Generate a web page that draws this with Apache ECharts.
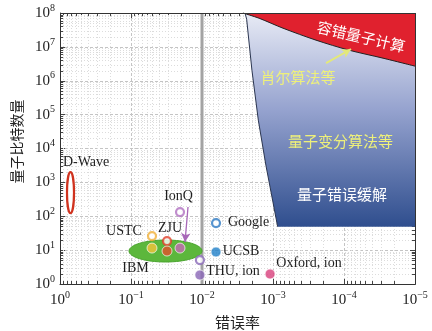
<!DOCTYPE html>
<html><head><meta charset="utf-8">
<script src="https://cdn.jsdelivr.net/npm/echarts@6/dist/echarts.min.js"></script>
<style>html,body{margin:0;padding:0;background:#fff}#c{width:432px;height:331px}</style>
</head><body><div id="c"></div>
<script>
// ---------- data ----------
const xTicks = [1, 0.1, 0.01, 0.001, 0.0001, 0.00001];
const yTicks = [1, 10, 100, 1e3, 1e4, 1e5, 1e6, 1e7, 1e8];

const ptGroup  = ['USTC','USTC','ZJU','ZJU','IonQ','IonQ','THU, ion','THU, ion','Google','UCSB','Oxford, ion'];
const ptHollow = [true,false,true,false,true,false,true,false,true,false,false];
const ptError  = [0.0506,0.0506,0.0311,0.0311,0.0204,0.0204,0.0107,0.0107,0.00635,0.00635,0.0011];
const ptQubits = [26,11.5,18.5,9.4,133,11.5,5.1,1.84,63,8.8,1.97];

const ellName     = ['D-Wave','IBM'];
const ellErrMin   = [0.635, 0.01];
const ellErrMax   = [0.797, 0.1067];
const ellQubitMin = [124, 4.46];
const ellQubitMax = [2000, 19.9];

// fault-tolerant region (red) and NISQ region (blue) boundaries
const ftX = [2.65e-3, 1.57e-3, 7.23e-4, 2.48e-4, 8.51e-5, 2.82e-5, 1e-5, 1e-5];
const ftY = [1e8, 7.0e7, 3.56e7, 1.58e7, 8.0e6, 4.64e6, 2.7e6, 1e8];
const nisqX = [2.48e-3, 2.35e-3, 1.98e-3, 1.61e-3, 1.26e-3, 8.59e-4, 1e-5, 1e-5];
const nisqY = [1e8, 6.56e7, 2.05e6, 6.88e4, 3.24e3, 49, 49, 1e8];

const thresholdX = [0.01, 0.01];
const thresholdY = [1, 1e8];

const annText = ['D-Wave','IonQ','ZJU','USTC','IBM','THU, ion','Google','UCSB','Oxford, ion'];
const annX = [0.43, 0.0214, 0.0282, 0.1255, 0.0865, 0.00366, 0.00221, 0.00282, 0.000311];
const annY = [3800, 376, 44, 34.9, 2.97, 2.31, 65, 8.97, 4.16];

const regText = ['容错量子计算','肖尔算法等','量子变分算法等','量子错误缓解'];
const regX = [5.76e-5, 4.45e-4, 1.12e-4, 1.07e-4];
const regY = [2.0e7, 1.24e6, 1.65e4, 437];

const shorArrowX = [1.79e-4, 7.97e-5];
const shorArrowY = [3.3e6, 8.55e6];
const ionqArrowX = [0.01574, 0.01735];
const ionqArrowY = [187, 17.3];

// ---------- styles ----------
const groupColor = {
  'USTC': ['#f0b038', '#f5c33a'],
  'ZJU': ['#e0402a', '#e2502c'],
  'IonQ': ['#b070c0', '#c868b8'],
  'THU, ion': ['#8a6ab8', '#8a66b6'],
  'Google': ['#2e7bc4', '#2e7bc4'],
  'UCSB': ['#1f80c8', '#1f80c8'],
  'Oxford, ion': ['#d8407c', '#d8407c']
};
const regColor = ['#ffffff', '#eef07a', '#eef07a', '#ffffff'];
const regRot = [-0.23, 0, 0, 0];
const SERIF = 'Liberation Serif';
const CJK = 'Noto Sans CJK SC';

function sup(v) {
  const e = Math.round(Math.log10(v));
  return '{b|10}{s|' + (e < 0 ? '\u2212' + (-e) : e) + '}';
}
const rich = {
  b: {fontSize: 15, fontFamily: SERIF, color: '#222', lineHeight: 20},
  s: {fontSize: 10, fontFamily: SERIF, color: '#222', lineHeight: 10, verticalAlign: 'top'}
};

const chart = echarts.init(document.getElementById('c'), null, {renderer: 'canvas'});

function crisp(v) { return Math.round(v) + 0.5; }

function decoRender(params, api) {
  const cs = params.coordSys;
  const L = cs.x, T = cs.y, R = cs.x + cs.width, B = cs.y + cs.height;
  const ch = [];
  const minorX = [], minorY = [];
  for (let k = -5; k < 0; k++) for (let m = 2; m <= 9; m++) minorX.push(m * Math.pow(10, k));
  for (let k = 0; k < 8; k++) for (let m = 2; m <= 9; m++) minorY.push(m * Math.pow(10, k));
  minorX.forEach(v => {
    const x = crisp(api.coord([v, 10])[0]);
    ch.push({type: 'line', shape: {x1: x, y1: T, x2: x, y2: B}, style: {stroke: '#dcdcdc', lineWidth: 1, lineDash: [1, 2]}});
    ch.push({type: 'line', shape: {x1: x, y1: B, x2: x, y2: B - 3}, style: {stroke: '#444', lineWidth: 1}});
    ch.push({type: 'line', shape: {x1: x, y1: T, x2: x, y2: T + 3}, style: {stroke: '#444', lineWidth: 1}});
  });
  minorY.forEach(v => {
    const y = crisp(api.coord([0.1, v])[1]);
    ch.push({type: 'line', shape: {x1: L, y1: y, x2: R, y2: y}, style: {stroke: '#dcdcdc', lineWidth: 1, lineDash: [1, 2]}});
    ch.push({type: 'line', shape: {x1: L, y1: y, x2: L + 3, y2: y}, style: {stroke: '#444', lineWidth: 1}});
    ch.push({type: 'line', shape: {x1: R, y1: y, x2: R - 3, y2: y}, style: {stroke: '#444', lineWidth: 1}});
  });
  xTicks.forEach(v => {
    const x = crisp(api.coord([v, 10])[0]);
    ch.push({type: 'line', shape: {x1: x, y1: T, x2: x, y2: T + 5}, style: {stroke: '#444', lineWidth: 1}});
  });
  yTicks.forEach(v => {
    const y = crisp(api.coord([0.1, v])[1]);
    ch.push({type: 'line', shape: {x1: R, y1: y, x2: R - 5, y2: y}, style: {stroke: '#444', lineWidth: 1}});
  });
  return {type: 'group', children: ch};
}

function frameRender(params, api) {
  const cs = params.coordSys;
  return {type: 'rect', shape: {x: crisp(cs.x), y: crisp(cs.y), width: Math.round(cs.width), height: Math.round(cs.height)},
          style: {fill: 'none', stroke: '#333', lineWidth: 1}};
}

function regionRender(params, api) {
  const blue = nisqX.map((x, i) => api.coord([x, nisqY[i]]));
  const red = ftX.map((x, i) => api.coord([x, ftY[i]]));
  const blueEdge = blue.slice(0, 6);
  const redEdge = red.slice(0, 7);
  return {type: 'group', children: [
    {type: 'polygon', shape: {points: blue}, style: {
      fill: new echarts.graphic.LinearGradient(0, 0, 0, 1, [
        {offset: 0, color: '#e8ebf5'}, {offset: 0.45, color: '#96a3cf'}, {offset: 1, color: '#2f4e8e'}])}},
    {type: 'polyline', shape: {points: blueEdge}, style: {stroke: '#2a3550', lineWidth: 1, fill: 'none'}},
    {type: 'polygon', shape: {points: red, smooth: 0}, style: {fill: '#e0212e'}},
    {type: 'polyline', shape: {points: redEdge, smooth: 0.3}, style: {stroke: '#222', lineWidth: 1, fill: 'none'}}
  ]};
}

function ellipseRender(params, api) {
  const i = params.dataIndex;
  const a = api.coord([api.value(0), api.value(2)]);
  const b = api.coord([api.value(1), api.value(3)]);
  const cx = (a[0] + b[0]) / 2, cy = (a[1] + b[1]) / 2;
  const rx = Math.abs(a[0] - b[0]) / 2, ry = Math.abs(a[1] - b[1]) / 2;
  const style = i === 0 ? {fill: '#fff', stroke: '#d0331f', lineWidth: 2.2}
                        : {fill: '#5cb73c', stroke: '#4aa52e', lineWidth: 1};
  return {type: 'ellipse', shape: {cx, cy, rx, ry}, style};
}

function textRender(texts, colors, sizes, fonts, rots) {
  return function (params, api) {
    const i = params.dataIndex;
    const p = api.coord([api.value(0), api.value(1)]);
    return {type: 'text', x: p[0], y: p[1], rotation: rots ? rots[i] : 0,
      style: {text: texts[i], fill: colors[i], fontSize: sizes, fontFamily: fonts, align: 'center', verticalAlign: 'middle'}};
  };
}

const points = ptError.map((x, i) => {
  const c = groupColor[ptGroup[i]];
  return {
    value: [x, ptQubits[i]],
    symbolSize: ptHollow[i] ? 8 : 10,
    itemStyle: ptHollow[i] ? {color: '#fff', borderColor: c[0], borderWidth: 2.2}
                           : {color: c[1], borderColor: 'rgba(255,255,255,0.85)', borderWidth: 1}
  };
});

const option = {
  animation: false,
  backgroundColor: '#fff',
  grid: {left: 60, right: 17, top: 13, bottom: 47, containLabel: false, outerBoundsMode: 'none'},
  xAxis: {
    type: 'log', logBase: 10, min: 1e-5, max: 1, inverse: true, splitNumber: 5,
    axisLine: {show: true, lineStyle: {color: '#333', width: 1}},
    axisTick: {show: true, inside: true, length: 5, lineStyle: {color: '#444'}},
    axisLabel: {formatter: sup, rich: rich, margin: 6},
    splitLine: {show: true, lineStyle: {color: '#c4c4c4', type: [3, 2], width: 1}},
    minorTick: {show: false},
    name: '错误率', nameLocation: 'middle', nameGap: 31,
    nameTextStyle: {fontFamily: CJK, fontSize: 15, color: '#222'}
  },
  yAxis: {
    type: 'log', logBase: 10, min: 1, max: 1e8, splitNumber: 8,
    axisLine: {show: true, lineStyle: {color: '#333', width: 1}},
    axisTick: {show: true, inside: true, length: 5, lineStyle: {color: '#444'}},
    axisLabel: {formatter: sup, rich: rich, margin: 5},
    splitLine: {show: true, lineStyle: {color: '#c4c4c4', type: [3, 2], width: 1}},
    name: '量子比特数量', nameLocation: 'middle', nameGap: 36,
    nameTextStyle: {fontFamily: CJK, fontSize: 14, color: '#222', padding: [0, 0, 0, 14]}
  },
  series: [
    {type: 'custom', name: 'deco', renderItem: decoRender, data: [[0.1, 10]], z: 1, silent: true, clip: false},
    {type: 'custom', name: 'regions', renderItem: regionRender, data: [[0.001, 100]], z: 2, silent: true, clip: false},
    {type: 'line', name: 'threshold', data: thresholdX.map((x, i) => [x, thresholdY[i]]), symbol: 'none', z: 3,
     lineStyle: {color: '#a3a3a3', width: 3}, silent: true,
     markLine: {silent: true, symbol: ['none', 'arrow'], symbolSize: [7, 9], label: {show: false}, animation: false,
       data: [
         [{coord: [shorArrowX[0], shorArrowY[0]], lineStyle: {color: '#e3e87a', width: 2, type: 'solid', curveness: 0}},
          {coord: [shorArrowX[1], shorArrowY[1]]}],
         [{coord: [ionqArrowX[0], ionqArrowY[0]], lineStyle: {color: '#a868b8', width: 1.3, type: 'solid', curveness: -0.35}},
          {coord: [ionqArrowX[1], ionqArrowY[1]]}]
       ]}},
    {type: 'custom', name: 'ellipses', renderItem: ellipseRender, z: 4, silent: true, clip: false,
     encode: {x: [0, 1], y: [2, 3]},
     data: ellName.map((n, i) => [ellErrMin[i], ellErrMax[i], ellQubitMin[i], ellQubitMax[i]])},
    {type: 'scatter', name: 'points', data: points, z: 5, symbol: 'circle', silent: true},
    {type: 'custom', name: 'labels', z: 6, silent: true, clip: false,
     renderItem: textRender(annText, annText.map(() => '#1e1e1e'), 14, SERIF, null),
     data: annText.map((t, i) => [annX[i], annY[i]])},
    {type: 'custom', name: 'regionLabels', z: 6, silent: true, clip: false,
     renderItem: textRender(regText, regColor, 15, CJK, regRot),
     data: regText.map((t, i) => [regX[i], regY[i]])},
    {type: 'custom', name: 'frame', renderItem: frameRender, data: [[0.1, 10]], z: 7, silent: true, clip: false}
  ]
};
chart.setOption(option);
</script></body></html>
